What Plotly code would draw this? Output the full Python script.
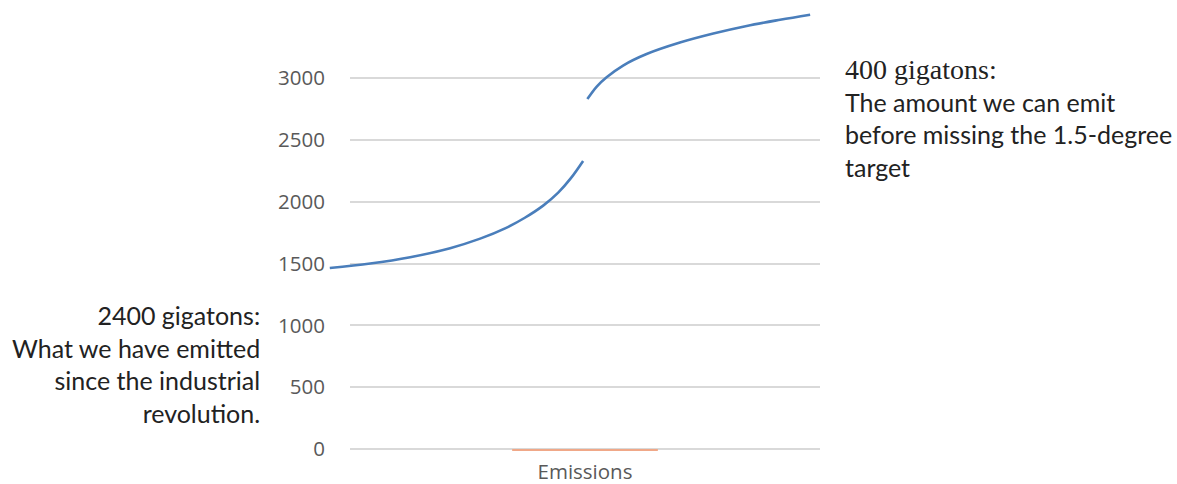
import plotly.graph_objects as go

# Stacked-emissions column (only a sliver is visible at the baseline)
categories = ["Emissions"]
bar_values = [-14]

# Y-axis ticks
y_ticks = [0, 500, 1000, 1500, 2000, 2500, 3000]

# Brace curve, in (category offset, gigatons)
brace_lower_x = [-0.543, -0.457, -0.372, -0.287, -0.223, -0.170, -0.128, -0.089, -0.057, -0.030, -0.004]
brace_lower_y = [1464, 1500, 1551, 1624, 1701, 1784, 1870, 1968, 2073, 2190, 2329]
brace_upper_x = [0.005, 0.025, 0.046, 0.081, 0.131, 0.202, 0.273, 0.344, 0.415, 0.479]
brace_upper_y = [2830, 2931, 3006, 3101, 3194, 3287, 3360, 3421, 3471, 3512]

W, H = 1177, 484
Y_RANGE = [-48.5, 3630.8]
Y_DOMAIN = [29 / H, 1.0]

BLUE = "#4A7EBB"
CLEAR = "rgba(0,0,0,0)"
TEXT_FONT = dict(family="Lato", size=25, color="#222222")

fig = go.Figure()

fig.add_trace(go.Bar(
    x=[0], y=bar_values, width=0.31,
    marker=dict(color="#F0A888", line=dict(width=0)),
    xaxis="x", yaxis="y", showlegend=False,
))

for bx, by in ((brace_lower_x, brace_lower_y), (brace_upper_x, brace_upper_y)):
    fig.add_trace(go.Scatter(
        x=bx, y=by, mode="lines",
        line=dict(color=BLUE, width=2.6, shape="spline", smoothing=1.0),
        xaxis="x2", yaxis="y2", showlegend=False, hoverinfo="skip",
    ))

# main axes: plot area spans the gridlines
x_left, x_right = 350, 820
# overlay axes for the brace, wider so the curve is not clipped
x2_left, x2_right = 320, 830
px_per_unit = (x_right - x_left) / 1.0
x2_range = [-0.5 - (x_left - x2_left) / px_per_unit, 0.5 + (x2_right - x_right) / px_per_unit]

fig.update_layout(
    width=W, height=H,
    margin=dict(l=0, r=0, t=0, b=0),
    paper_bgcolor="white", plot_bgcolor=CLEAR,
    showlegend=False,
    xaxis=dict(
        domain=[x_left / W, x_right / W], range=[-0.5, 0.5],
        tickvals=[0], ticktext=categories,
        tickfont=dict(family="Open Sans", size=20.5, color="#595959"),
        showgrid=False, zeroline=False, showline=False, ticks="",
        ticklabelstandoff=2, automargin=False, fixedrange=True,
    ),
    yaxis=dict(
        domain=Y_DOMAIN, range=Y_RANGE,
        tickvals=y_ticks,
        tickfont=dict(family="Open Sans", size=20.5, color="#595959"),
        showgrid=True, gridcolor="#D9D9D9", gridwidth=1.5,
        zeroline=False, showline=False, ticks="",
        ticklabelstandoff=24, automargin=False, fixedrange=True,
    ),
    xaxis2=dict(
        domain=[x2_left / W, x2_right / W], range=x2_range,
        anchor="y2", visible=False, showgrid=False, zeroline=False, fixedrange=True,
    ),
    yaxis2=dict(
        domain=Y_DOMAIN, range=Y_RANGE,
        anchor="x2", visible=False, showgrid=False, zeroline=False, fixedrange=True,
    ),
)

fig.add_annotation(
    xref="paper", yref="paper", x=262 / W, y=1 - 364 / H,
    xanchor="right", yanchor="middle", align="right", showarrow=False,
    text="2400 gigatons:<br>What we have emitted<br>since the industrial<br>revolution.",
    font=TEXT_FONT,
)

fig.add_annotation(
    xref="paper", yref="paper", x=843 / W, y=1 - 118 / H,
    xanchor="left", yanchor="middle", align="left", showarrow=False,
    text='<span style="font-family:Liberation Serif;font-size:28px">400 gigatons:</span><br>'
         "The amount we can emit<br>before missing the 1.5-degree<br>target",
    font=TEXT_FONT,
)

fig.write_html("out.html")
